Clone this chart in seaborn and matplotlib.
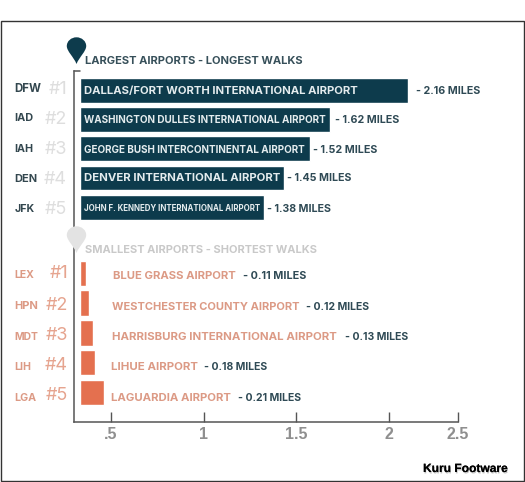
import numpy as np
import pandas as pd
import matplotlib
matplotlib.use("Agg")
import matplotlib.pyplot as plt
from matplotlib.path import Path
from matplotlib.patches import PathPatch, Rectangle
from matplotlib.lines import Line2D
from matplotlib.transforms import Affine2D
import matplotlib.patheffects as pe
import seaborn as sns

# ---- data ----
large_codes = ["DFW", "IAD", "IAH", "DEN", "JFK"]
large_names = ["DALLAS/FORT WORTH INTERNATIONAL AIRPORT", "WASHINGTON DULLES INTERNATIONAL AIRPORT",
               "GEORGE BUSH INTERCONTINENTAL AIRPORT", "DENVER INTERNATIONAL AIRPORT",
               "JOHN F. KENNEDY INTERNATIONAL AIRPORT"]
large_miles = [2.16, 1.62, 1.52, 1.45, 1.38]
small_codes = ["LEX", "HPN", "MDT", "LIH", "LGA"]
small_names = ["BLUE GRASS AIRPORT", "WESTCHESTER COUNTY AIRPORT", "HARRISBURG INTERNATIONAL AIRPORT",
               "LIHUE AIRPORT", "LAGUARDIA AIRPORT"]
small_miles = [0.11, 0.12, 0.13, 0.18, 0.21]
ranks = ["#1", "#2", "#3", "#4", "#5"]
tick_values = [0.5, 1, 1.5, 2, 2.5]
tick_labels = [".5", "1", "1.5", "2", "2.5"]

# ---- layout and style (pixels of the 525x482 picture) ----
W, H = 525, 482
scale_miles = [-0.05, 0, 0.11, 0.12, 0.13, 0.18, 0.21, 0.5, 1, 1.38, 1.45, 1.5, 1.52, 1.62, 2, 2.16, 2.5]
scale_px = [73.5, 80, 86, 89, 93, 95, 104, 110.5, 203.5, 263.7, 283.7, 296, 310, 330, 388.5, 407.7, 458]
NAVY, CORAL, SALMON, INK = "#0d3b4c", "#e4704f", "#dc9a85", "#2f4a55"
SANS = "Inter"

sns.set_theme(style="white")
plt.rcParams["font.family"] = [SANS, "DejaVu Sans"]
fig = plt.figure(figsize=(W / 100, H / 100), dpi=100, facecolor="white")


def axes_px(left, top, right, bottom):
    return fig.add_axes([left / W, 1 - bottom / H, (right - left) / W, (bottom - top) / H])


def to_px(v):
    return np.interp(v, scale_miles, scale_px)


def from_px(p):
    return np.interp(p, scale_px, scale_miles)


def label(x, y, s, color, width=None, size=8, ha="left", family=None, weight="bold"):
    t = fig.text(x / W, 1 - y / H, s, color=color, fontsize=size, ha=ha, va="center",
                 fontweight=weight, family=family or SANS)
    if width:
        ext = t.get_window_extent(fig.canvas.get_renderer())
        t.set_fontsize(size * width / ext.width)
    return t


def bars(ax, codes, miles, color, ylim):
    df = pd.DataFrame({"code": codes, "miles": miles})
    sns.barplot(data=df, y="code", x="miles", orient="h", color=color, saturation=1,
                width=0.85, ax=ax)
    ax.set_xscale("function", functions=(to_px, from_px))
    ax.set_xlim(-0.05, 2.5)
    ax.set_ylim(*ylim)
    ax.set_xlabel("")
    ax.set_ylabel("")
    ax.set_yticks([])
    ax.patch.set_alpha(0)
    for s in ["top", "right", "bottom"]:
        ax.spines[s].set_visible(False)
    ax.spines["left"].set_color("#555555")
    ax.spines["left"].set_linewidth(1.1)


ax_top = axes_px(73.5, 70.7, 458, 226.7)
bars(ax_top, large_codes, large_miles, NAVY, (4.66, -0.66))
ax_top.set_xticks([])
ax_top.xaxis.set_minor_locator(matplotlib.ticker.NullLocator())

ax_bot = axes_px(73.5, 248, 458, 421.7)
bars(ax_bot, small_codes, small_miles, CORAL, (4.98, -0.85))
ax_bot.spines["bottom"].set_visible(True)
ax_bot.spines["bottom"].set_color("#555555")
ax_bot.spines["bottom"].set_linewidth(1.1)
ax_bot.set_xticks(tick_values)
ax_bot.set_xticklabels(tick_labels, fontsize=11.5, fontweight="bold", color="#8f8f8f",
                       family="Liberation Sans")
ax_bot.xaxis.set_minor_locator(matplotlib.ticker.NullLocator())
ax_bot.tick_params(axis="x", direction="in", length=7.5, width=1, color="#555555", pad=3.5, bottom=True)

# small cap at the top of the axis line
fig.add_artist(Line2D([73.5 / W, 80 / W], [1 - 70.7 / H] * 2, color="#555555", lw=1.1))

# left-hand codes and ranks
code_y_top = [89, 118, 149.5, 179.5, 209.5]
code_y_bot = [275, 306, 337, 366.5, 398]
rank_y_top = [90, 119, 150, 180, 210]
rank_y_bot = [274, 305, 336, 366, 396]
code_w_top = [27, 19, 19, 23, 20]
code_w_bot = [20, 24, 24, 17, 22]
for i in range(5):
    label(14.5, code_y_top[i], large_codes[i], "#33474f", code_w_top[i])
    label(14.5, code_y_bot[i], small_codes[i], SALMON, code_w_bot[i])
    label(67, rank_y_top[i], ranks[i], "#dedede", size=13, ha="right", weight="normal")
    label(68, rank_y_bot[i], ranks[i], "#e6a48f", size=13, ha="right", weight="normal")

# airport names
name_y_top = [91, 120, 150, 178, 208.5]
name_w_top = [274, 242, 221, 196, 177]
name_x_bot = [113, 112.5, 112, 111, 111]
name_y_bot = [276, 307, 337, 367, 398]
name_w_bot = [123, 187, 225, 87, 120]
for i in range(5):
    label(84, name_y_top[i], large_names[i], "#e4ecee", name_w_top[i])
    label(name_x_bot[i], name_y_bot[i], small_names[i], SALMON, name_w_bot[i])

# value labels
value_x_top = [416, 335, 313, 287, 267]
value_x_bot = [243, 306, 345, 204, 238]
for i in range(5):
    label(value_x_top[i], name_y_top[i], f"- {large_miles[i]:.2f} MILES", INK, 64)
    label(value_x_bot[i], name_y_bot[i], f"- {small_miles[i]:.2f} MILES", INK, 63)

# section headings
label(85, 61, "LARGEST AIRPORTS - LONGEST WALKS", "#37505a", 218)
label(85, 250, "SMALLEST AIRPORTS - SHORTEST WALKS", "#c9c9c9", 231)

# map pins
drop = Path([(0, 1), (0.55, 1), (1, 0.6), (1, 0.1), (1, -0.45), (0.3, -1.0), (0, -1.75),
             (-0.3, -1.0), (-1, -0.45), (-1, 0.1), (-1, 0.6), (-0.55, 1), (0, 1)],
            [Path.MOVETO] + [Path.CURVE4] * 12)


def pin(cx, cy, color):
    tf = Affine2D().scale(9.7, -9.7).translate(cx, cy).scale(1 / W, 1 / H).scale(1, -1).translate(0, 1)
    fig.add_artist(PathPatch(drop, facecolor=color, edgecolor="none",
                             transform=tf + fig.transFigure))


pin(76.5, 47, "#0d3b4c")
pin(76.5, 236, "#e3e3e3")

# frame and credit
fig.add_artist(Rectangle((1 / W, 1 - 481 / H), 523 / W, 460 / H, transform=fig.transFigure,
                         fill=False, edgecolor="#333333", lw=1))
credit = label(423, 469, "Kuru Footware", "black", 85, family="Liberation Sans")
credit.set_path_effects([pe.withSimplePatchShadow(offset=(0.5, -1), shadow_rgbFace="#999999", alpha=0.6), pe.Normal()])

fig.savefig("out.png", dpi=100, facecolor="white")
